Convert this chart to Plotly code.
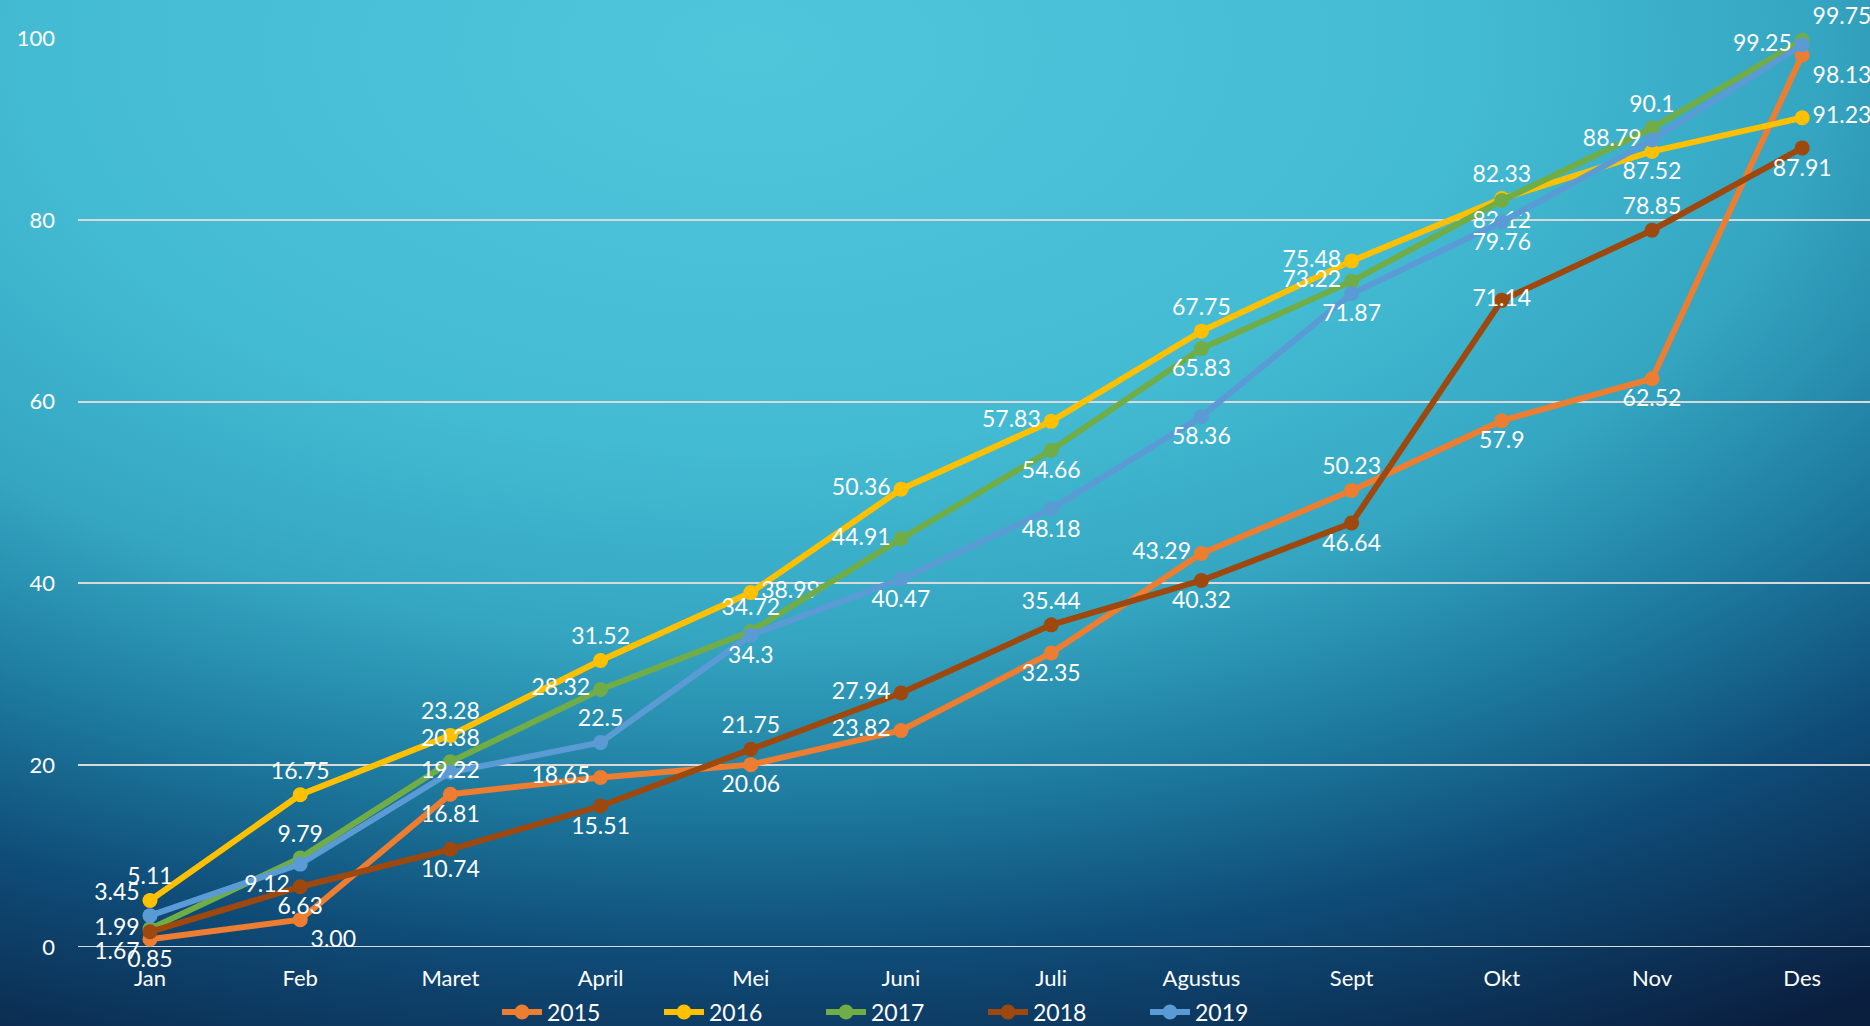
import base64
import plotly.graph_objects as go

months = ["Jan", "Feb", "Maret", "April", "Mei", "Juni", "Juli", "Agustus", "Sept", "Okt", "Nov", "Des"]

y2015 = [0.85, 3.00, 16.81, 18.65, 20.06, 23.82, 32.35, 43.29, 50.23, 57.9, 62.52, 98.13]
y2016 = [5.11, 16.75, 23.28, 31.52, 38.99, 50.36, 57.83, 67.75, 75.48, 82.33, 87.52, 91.23]
y2017 = [1.99, 9.79, 20.38, 28.32, 34.72, 44.91, 54.66, 65.83, 73.22, 82.12, 90.1, 99.75]
y2018 = [1.67, 6.63, 10.74, 15.51, 21.75, 27.94, 35.44, 40.32, 46.64, 71.14, 78.85, 87.91]
y2019 = [3.45, 9.12, 19.22, 22.5, 34.3, 40.47, 48.18, 58.36, 71.87, 79.76, 88.79, 99.25]

labels2015 = ["0.85", "3.00", "16.81", "18.65", "20.06", "23.82", "32.35", "43.29", "50.23", "57.9", "62.52", "98.13"]
labels2016 = ["5.11", "16.75", "23.28", "31.52", "38.99", "50.36", "57.83", "67.75", "75.48", "82.33", "87.52", "91.23"]
labels2017 = ["1.99", "9.79", "20.38", "28.32", "34.72", "44.91", "54.66", "65.83", "73.22", "82.12", "90.1", "99.75"]
labels2018 = ["1.67", "6.63", "10.74", "15.51", "21.75", "27.94", "35.44", "40.32", "46.64", "71.14", "78.85", "87.91"]
labels2019 = ["3.45", "9.12", "19.22", "22.5", "34.3", "40.47", "48.18", "58.36", "71.87", "79.76", "88.79", "99.25"]

series_names = ["2015", "2016", "2017", "2018", "2019"]

# styling
colors = ["#ED7D31", "#FFC000", "#70AD47", "#9E480E", "#5B9BD5"]
positions = [
    ["bottom center", "bottom right", "bottom center", "middle left", "bottom center", "middle left",
     "bottom center", "middle left", "top center", "bottom center", "bottom center", "bottom right"],
    ["top center", "top center", "top center", "top center", "middle right", "middle left",
     "middle left", "top center", "middle left", "top center", "bottom center", "middle right"],
    ["middle left", "top center", "top center", "middle left", "top center", "middle left",
     "bottom center", "bottom center", "middle left", "bottom center", "top center", "top right"],
    ["bottom left", "bottom center", "bottom center", "bottom center", "top center", "middle left",
     "top center", "bottom center", "bottom center", "middle center", "top center", "bottom center"],
    ["top left", "bottom left", "middle center", "top center", "bottom center", "bottom center",
     "bottom center", "bottom center", "bottom center", "bottom center", "middle left", "middle left"],
]

W, H = 1870, 1026
ML, MR, MT, MB = 78, 0, 38, 79
PW = W - ML - MR
PH = H - MT - MB

svg = f'''<svg xmlns="http://www.w3.org/2000/svg" width="{W}" height="{H}" viewBox="0 0 {W} {H}" preserveAspectRatio="none">
<defs>
<radialGradient id="g" cx="0.4" cy="0.05" r="1.1" fx="0.4" fy="0.05">
<stop offset="0" stop-color="#50C6DB"/>
<stop offset="0.35" stop-color="#43BBD3"/>
<stop offset="0.52" stop-color="#35A6C2"/>
<stop offset="0.66" stop-color="#1E7CA0"/>
<stop offset="0.8" stop-color="#0F4C78"/>
<stop offset="1" stop-color="#0A1E3E"/>
</radialGradient>
</defs>
<rect x="0" y="0" width="{W}" height="{H}" fill="url(#g)"/>
</svg>'''
src = "data:image/svg+xml;base64," + base64.b64encode(svg.encode()).decode()

fig = go.Figure()
all_y = [y2015, y2016, y2017, y2018, y2019]
all_lab = [labels2015, labels2016, labels2017, labels2018, labels2019]
for name, ys, labs, col, pos in zip(series_names, all_y, all_lab, colors, positions):
    fig.add_trace(go.Scatter(
        x=months, y=ys, name=name, mode="lines+markers+text",
        text=labs, textposition=pos,
        textfont=dict(color="white", size=23, family="Lato"),
        line=dict(color=col, width=6),
        marker=dict(color=col, size=15),
        cliponaxis=False,
    ))

x0 = -(150 - ML) / 150.2
fig.update_layout(
    width=W, height=H,
    margin=dict(l=ML, r=MR, t=MT, b=MB, autoexpand=False),
    paper_bgcolor="#1F7FA3",
    plot_bgcolor="rgba(0,0,0,0)",
    font=dict(family="Lato", color="white", size=22),
    images=[dict(source=src, xref="paper", yref="paper",
                 x=-ML / PW, y=1 + MT / PH, sizex=W / PW, sizey=H / PH,
                 xanchor="left", yanchor="top", sizing="stretch", layer="below")],
    xaxis=dict(type="category", range=[x0, x0 + PW / 150.2], showgrid=False,
               showline=False, zeroline=False, ticks="", ticklabelstandoff=16,
               tickfont=dict(size=22, color="white")),
    yaxis=dict(range=[0, 100], tickvals=[0, 20, 40, 60, 80, 100], showgrid=True,
               gridcolor="#D9D9D9", gridwidth=2, zeroline=False, showline=False,
               ticks="", ticklabelstandoff=22, tickfont=dict(size=22, color="white")),
    legend=dict(orientation="h", x=(497 - ML) / PW, xanchor="left",
                y=-(1012 - (MT + PH)) / PH, yanchor="middle",
                font=dict(size=23, color="white"), bgcolor="rgba(0,0,0,0)",
                entrywidth=107, entrywidthmode="pixels", itemwidth=40),
    showlegend=True,
)
fig.add_hline(y=0, line=dict(color="#D9D9D9", width=2), layer="below")

fig.write_html("out.html")
